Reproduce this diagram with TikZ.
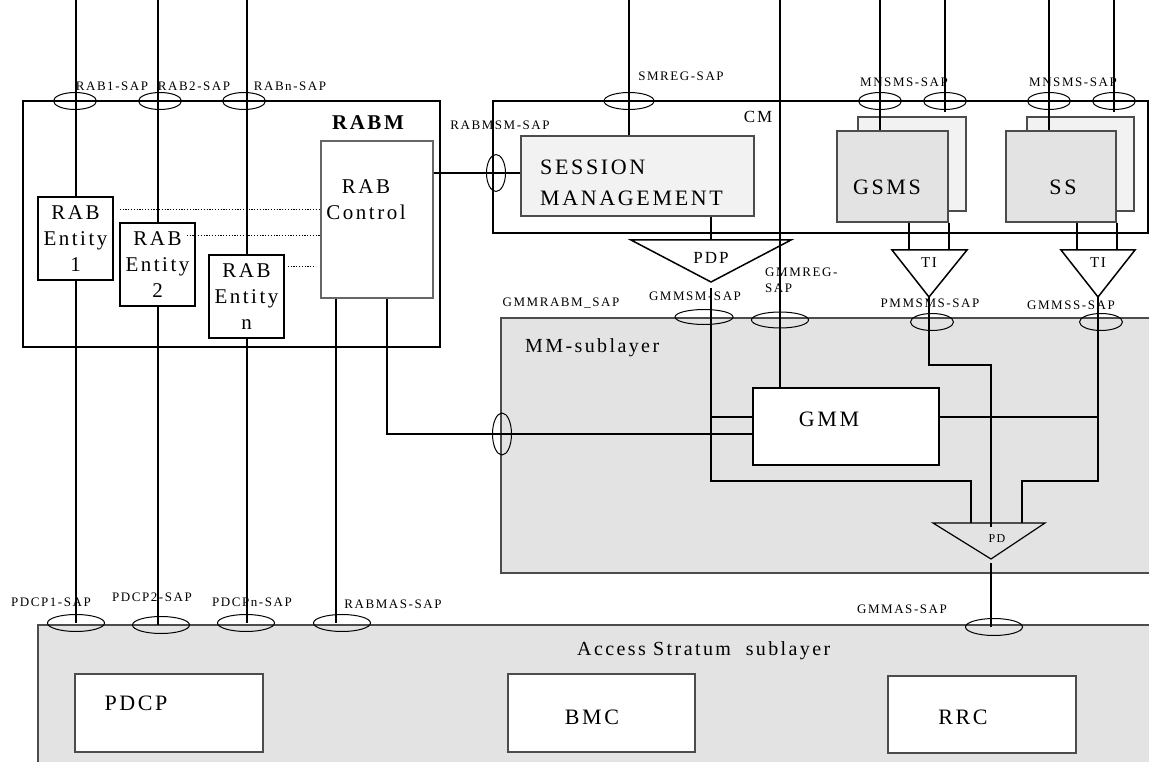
\documentclass[tikz,border=0pt]{standalone}
\usepackage{fontspec}
\setmainfont{Liberation Serif}[LetterSpace=12]
\newfontfamily\sapfont{Liberation Serif}[LetterSpace=12]
\usepackage{tikz}
\usetikzlibrary{positioning,calc,shapes.geometric}
\usepackage{xcolor}
\definecolor{layergray}{RGB}{227,227,227}
\definecolor{boxgray}{RGB}{242,242,242}
\newcommand{\saptext}{\sapfont\fontsize{13}{16}\selectfont}

\begin{document}
\begin{tikzpicture}[x=1pt, y=-1pt,
    line/.style={line width=2pt},
    box/.style={draw, line width=1.4pt, inner sep=0pt, align=center},
    sap/.style={draw, ellipse, line width=1pt, inner sep=0pt, minimum width=43pt, minimum height=17pt},
    saplbl/.style={font=\saptext, inner sep=0pt, anchor=base},
    dots/.style={line width=1.4pt, dash pattern=on 1.3pt off 1.5pt},
    big/.style={font=\fontsize{21}{26}\selectfont, inner sep=0pt, align=center}]
    \useasboundingbox (0,0) rectangle (1149,762);
    \clip (0,0) rectangle (1149,762);
    \coordinate (top) at (0,-2);

    % Layers
    \node[box, fill=layergray, draw=black!70, line width=1.2pt, minimum width=1122pt, minimum height=150pt] (as) at (599,700) {};
    \node[box, fill=layergray, draw=black!70, line width=1.2pt, minimum width=659pt, minimum height=255pt] (mm) at (830.5,445.5) {};

    % RABM
    \node[box, minimum width=417pt, minimum height=246pt] (rabm) at (231.5,224) {};
    \node[font=\bfseries\fontsize{21}{26}\selectfont, inner sep=0pt, anchor=base] (rabmlbl) at (368,130) {RABM};
    \node[box, big, minimum width=75pt, minimum height=83pt] (ent1) at (75.5,238.5) {RAB\\Entity\\1};
    \node[box, big, minimum width=75pt, minimum height=83pt] (ent2) at (157.5,264.5) {RAB\\Entity\\2};
    \node[box, big, minimum width=75pt, minimum height=83pt] (entn) at (246.5,296.5) {RAB\\Entity\\n};
    \node[box, fill=white, draw=black!60, line width=1.2pt, minimum width=112pt, minimum height=157pt] (rabc) at (377,219.5) {};
    \node[big] (rabclbl) at (366,200) {RAB\\Control};

    % CM
    \node[box, minimum width=655pt, minimum height=132pt] (cm) at (820.5,167) {};
    \node[font=\fontsize{17}{20}\selectfont, inner sep=0pt, anchor=base] (cmlbl) at (758,123) {CM};
    \node[box, fill=boxgray, draw=black!70, line width=1.2pt, minimum width=233pt, minimum height=80pt] (sm) at (637.5,176) {};
    \node[big, font=\fontsize{22}{31}\selectfont, align=left, anchor=west] (smlbl) at (540,182.5) {SESSION\\MANAGEMENT};
    \node[box, fill=boxgray, draw=black!70, line width=1.2pt, minimum width=108pt, minimum height=94pt] (gsmsb) at (912,164) {};
    \node[box, fill=layergray, draw=black!70, line width=1.2pt, minimum width=111pt, minimum height=91pt] (gsms) at (892.5,176.5) {};
    \node[font=\fontsize{22}{26}\selectfont, inner sep=0pt, anchor=base] (gsmslbl) at (887,195) {GSMS};
    \node[box, fill=boxgray, draw=black!70, line width=1.2pt, minimum width=107pt, minimum height=94pt] (ssb) at (1080.5,164) {};
    \node[box, fill=layergray, draw=black!70, line width=1.2pt, minimum width=110pt, minimum height=91pt] (ss) at (1061,176.5) {};
    \node[font=\fontsize{22}{26}\selectfont, inner sep=0pt, anchor=base] (sslbl) at (1063,195) {SS};

    % PDP and TI triangles
    \coordinate (pdpl) at (631,240);
    \coordinate (pdpr) at (791,240);
    \coordinate (pdptip) at (711,282);
    \coordinate (pdp) at (711,240);
    \draw[line width=1.5pt] (pdpl) -- (pdpr) -- (pdptip) -- cycle;
    \node[font=\fontsize{17}{20}\selectfont, inner sep=0pt, anchor=base] (pdplbl) at (711,264) {PDP};
    \coordinate (ti1l) at (892,250);
    \coordinate (ti1r) at (967,250);
    \coordinate (ti1tip) at (929,297);
    \draw[line width=1.5pt] (ti1l) -- (ti1r) -- (ti1tip) -- cycle;
    \node[font=\fontsize{15}{18}\selectfont, inner sep=0pt, anchor=base] (ti1lbl) at (929,268) {TI};
    \coordinate (ti2l) at (1061,250);
    \coordinate (ti2r) at (1135,250);
    \coordinate (ti2tip) at (1098,297);
    \draw[line width=1.5pt] (ti2l) -- (ti2r) -- (ti2tip) -- cycle;
    \node[font=\fontsize{15}{18}\selectfont, inner sep=0pt, anchor=base] (ti2lbl) at (1098,268) {TI};

    % MM-sublayer
    \node[font=\fontsize{20}{24}\selectfont, inner sep=0pt, anchor=base west] (mmlbl) at (525,352) {MM-sublayer};
    \node[box, fill=white, minimum width=186pt, minimum height=77pt] (gmm) at (846,426.5) {};
    \node[font=\fontsize{22}{26}\selectfont, inner sep=0pt, anchor=base] (gmmlbl) at (829,426) {GMM};
    \coordinate (pdl0) at (933,523);
    \coordinate (pdr0) at (1045,523);
    \coordinate (pdtip) at (991,559);
    \draw[line width=1.2pt] (pdl0) -- (pdr0) -- (pdtip) -- cycle;
    \node[font=\fontsize{12}{14}\selectfont, inner sep=0pt, anchor=base] (pdlbl) at (997,542) {PD};

    % Access Stratum
    \node[font=\fontsize{20}{24}\selectfont, inner sep=0pt, anchor=base west] (aslbl) at (577,655) {Access Stratum\ \ sublayer};
    \node[box, fill=white, draw=black!70, minimum width=188pt, minimum height=78pt] (pdcp) at (169,713) {};
    \node[font=\fontsize{22}{26}\selectfont, inner sep=0pt, anchor=base] (pdcplbl) at (136,710) {PDCP};
    \node[box, fill=white, draw=black!70, minimum width=187pt, minimum height=78pt] (bmc) at (601.5,713) {};
    \node[font=\fontsize{22}{26}\selectfont, inner sep=0pt, anchor=base] (bmclbl) at (592,724) {BMC};
    \node[box, fill=white, draw=black!70, minimum width=188pt, minimum height=77pt] (rrc) at (982,714.5) {};
    \node[font=\fontsize{22}{26}\selectfont, inner sep=0pt, anchor=base] (rrclbl) at (963,724) {RRC};

    % SAP ellipses
    \node[sap] (rab1) at (75,101) {};
    \node[sap] (rab2) at (160,101) {};
    \node[sap] (rabn) at (244,101) {};
    \node[sap, minimum width=50pt] (smreg) at (629,101) {};
    \node[sap, minimum width=19pt, minimum height=37pt] (rabmsm) at (496,173) {};
    \node[sap] (mnsms1) at (880,101) {};
    \node[sap] (mnsms2) at (945,101) {};
    \node[sap] (mnsms3) at (1049,101) {};
    \node[sap] (mnsms4) at (1114,101) {};
    \node[sap, minimum width=58pt, minimum height=15pt] (gmmsm) at (704,317) {};
    \node[sap, minimum width=57pt, minimum height=16pt] (gmmreg) at (780,320) {};
    \node[sap] (pmmsms) at (932,322) {};
    \node[sap] (gmmss) at (1101,322) {};
    \node[sap, minimum width=19pt, minimum height=42pt] (gmmrabm) at (502,434) {};
    \node[sap, minimum width=57pt] (pdcp1) at (76,623) {};
    \node[sap, minimum width=57pt] (pdcp2) at (161,625) {};
    \node[sap, minimum width=57pt] (pdcpn) at (246,623) {};
    \node[sap, minimum width=57pt] (rabmas) at (342,623) {};
    \node[sap, minimum width=57pt] (gmmas) at (994,627) {};

    % RAB entity lines
    \draw[line] (ent1 |- top) -- (ent1.north);
    \draw[line] (ent1.south) -- (ent1 |- pdcp1);
    \draw[line] (ent2 |- top) -- (ent2.north);
    \draw[line] (ent2.south) -- (ent2 |- pdcp2);
    \draw[line] (entn |- top) -- (entn.north);
    \draw[line] (entn.south) -- (entn |- pdcpn);
    \coordinate (d1) at ($(ent1.north east)+(6,13)$);
    \coordinate (d2) at ($(ent2.north east)+(-9,13)$);
    \coordinate (d3) at ($(entn.north east)+(3,12)$);
    \draw[dots] (d1) -- (d1 -| rabc.west);
    \draw[dots] (d2) -- (d2 -| rabc.west);
    \draw[dots] (d3) -- ++(28,0);

    % RAB control lines
    \coordinate (rc1) at ($(rabc.south west)+(16,0)$);
    \coordinate (rc2) at ($(rabc.south west)+(67,0)$);
    \draw[line] (rc1) -- (rc1 |- rabmas);
    \draw[line] (rc2) -- (rc2 |- gmmrabm) -- (gmm.west |- gmmrabm);
    \draw[line] (rabc.east |- rabmsm) -- (sm.west |- rabmsm);

    % Session management lines
    \draw[line] (smreg |- top) -- (smreg |- sm.north);
    \draw[line] (sm.south -| pdp) -- (pdp);
    \coordinate (pdl) at (971,523);
    \coordinate (pdr) at (1022,523);
    \coordinate (pdc) at (991,527);
    \coordinate (gmmin) at ($(gmm.north west)+(0,30)$);
    \draw[line] ($(pdptip)+(0,6)$) -- ++(0,193) -| (pdl);
    \draw[line] (pdptip |- gmmin) -- (gmmin);
    \draw[line] (gmmreg |- top) -- (gmmreg |- gmm.north);

    % GSMS and SS lines
    \draw[line] (mnsms1 |- top) -- (mnsms1 |- gsms.north);
    \draw[line] (mnsms2 |- top) -- ($(mnsms2)+(0,11)$);
    \coordinate (g1) at ($(gsms.south west)+(73,0)$);
    \draw[line] (g1) -- (g1 |- ti1l);
    \draw[line] (gsms.south east) -- (gsms.south east |- ti1l);
    \draw[line, line width=2.6pt] (ti1tip) -- ++(0,68) -| (pdc);
    \draw[line] (mnsms3 |- top) -- (mnsms3 |- ss.north);
    \draw[line] (mnsms4 |- top) -- ($(mnsms4)+(0,11)$);
    \coordinate (s1) at ($(ss.south west)+(72,0)$);
    \draw[line] (s1) -- (s1 |- ti2l);
    \draw[line] (ss.south east) -- (ss.south east |- ti2l);
    \draw[line] (ti2tip) -- ++(0,184) -| (pdr);
    \draw[line] (gmm.east |- gmmin) -- (ti2tip |- gmmin);
    \draw[line] ($(pdtip)+(0,4)$) -- (pdtip |- gmmas);

    % SAP labels
    \node[saplbl] (rab1lbl) at (112,91) {RAB1-SAP};
    \node[saplbl] (rab2lbl) at (194,91) {RAB2-SAP};
    \node[saplbl] (rabnlbl) at (290,91) {RABn-SAP};
    \node[saplbl] (smreglbl) at (681,81) {SMREG-SAP};
    \node[saplbl] (rabmsmlbl) at (500,130) {RABMSM-SAP};
    \node[saplbl] (mnsms1lbl) at (904,87) {MNSMS-SAP};
    \node[saplbl] (mnsms3lbl) at (1073,87) {MNSMS-SAP};
    \node[saplbl] (gmmrabmlbl) at (561,306) {GMMRABM\_SAP};
    \node[saplbl] (gmmsmlbl) at (695,300) {GMMSM-SAP};
    \node[saplbl, anchor=base west, align=left] (gmmreglbl) at (765,292) {GMMREG-\\SAP};
    \node[saplbl] (pmmsmslbl) at (930,308) {PMMSMS-SAP};
    \node[saplbl] (gmmsslbl) at (1071,309) {GMMSS-SAP};
    \node[saplbl] (pdcp1lbl) at (51,606) {PDCP1-SAP};
    \node[saplbl] (pdcp2lbl) at (152,601) {PDCP2-SAP};
    \node[saplbl] (pdcpnlbl) at (252,606) {PDCPn-SAP};
    \node[saplbl] (rabmaslbl) at (393,608) {RABMAS-SAP};
    \node[saplbl] (gmmaslbl) at (902,613) {GMMAS-SAP};
\end{tikzpicture}
\end{document}
